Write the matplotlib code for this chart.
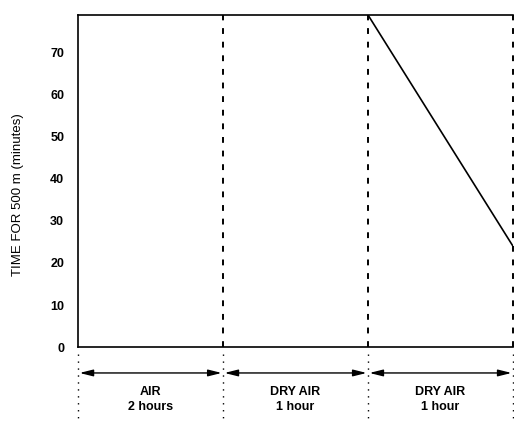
import numpy as np
import matplotlib.pyplot as plt

# segment boundaries on the x axis (arbitrary units, one per segment)
bounds = [0, 1, 2, 3]
segment_names = ['AIR', 'DRY AIR', 'DRY AIR']
segment_times = ['2 hours', '1 hour', '1 hour']

# drying line in the last segment
line_x = [2, 3]
line_y = [79, 24]

yticks = [0, 10, 20, 30, 40, 50, 60, 70]

plt.rcParams['font.family'] = ['Liberation Sans Narrow', 'Liberation Sans', 'DejaVu Sans']

fig = plt.figure(figsize=(5.14, 4.29), dpi=100)
ax = fig.add_axes([0.152, 0.191, 0.846, 0.774])

ax.plot(line_x, line_y, color='black', lw=1.2)

ax.set_xlim(0, 3)
ax.set_ylim(0, 79)
ax.set_xticks([])
ax.set_yticks(yticks)
ax.tick_params(axis='y', length=0, pad=10, labelsize=9)
for lab in ax.get_yticklabels():
    lab.set_fontweight('bold')
ax.set_ylabel('TIME FOR 500 m (minutes)', fontsize=9.5)
ax.yaxis.set_label_coords(-0.125, 0.46)

ax.spines['right'].set_visible(False)
for s in ['top', 'left', 'bottom']:
    ax.spines[s].set_linewidth(1.2)

trans = ax.get_xaxis_transform()
# dashed dividers inside the plot, dotted below it
for xb in bounds[1:]:
    ax.plot([xb, xb], [0, 1], transform=trans, color='black', lw=1.4,
            ls=(0, (3, 4)), clip_on=False)
for xb in bounds:
    ax.plot([xb, xb], [-0.02, -0.22], transform=trans, color='black', lw=1.0,
            ls=(0, (1, 4)), clip_on=False)

# arrows and labels for each segment
for i in range(len(segment_names)):
    x0, x1 = bounds[i], bounds[i + 1]
    ax.annotate('', xy=(x1 - 0.01, -0.078), xytext=(x0 + 0.01, -0.078),
                xycoords=trans, textcoords=trans,
                arrowprops=dict(arrowstyle='<|-|>,head_length=0.8,head_width=0.2',
                                color='black', lw=1.0,
                                mutation_scale=10, shrinkA=0, shrinkB=0))
    xm = (x0 + x1) / 2
    ax.text(xm, -0.136, segment_names[i], transform=trans, ha='center',
            va='center', fontsize=9, fontweight='bold')
    ax.text(xm, -0.18, segment_times[i], transform=trans, ha='center',
            va='center', fontsize=9, fontweight='bold')

fig.savefig('out.png', dpi=100)
